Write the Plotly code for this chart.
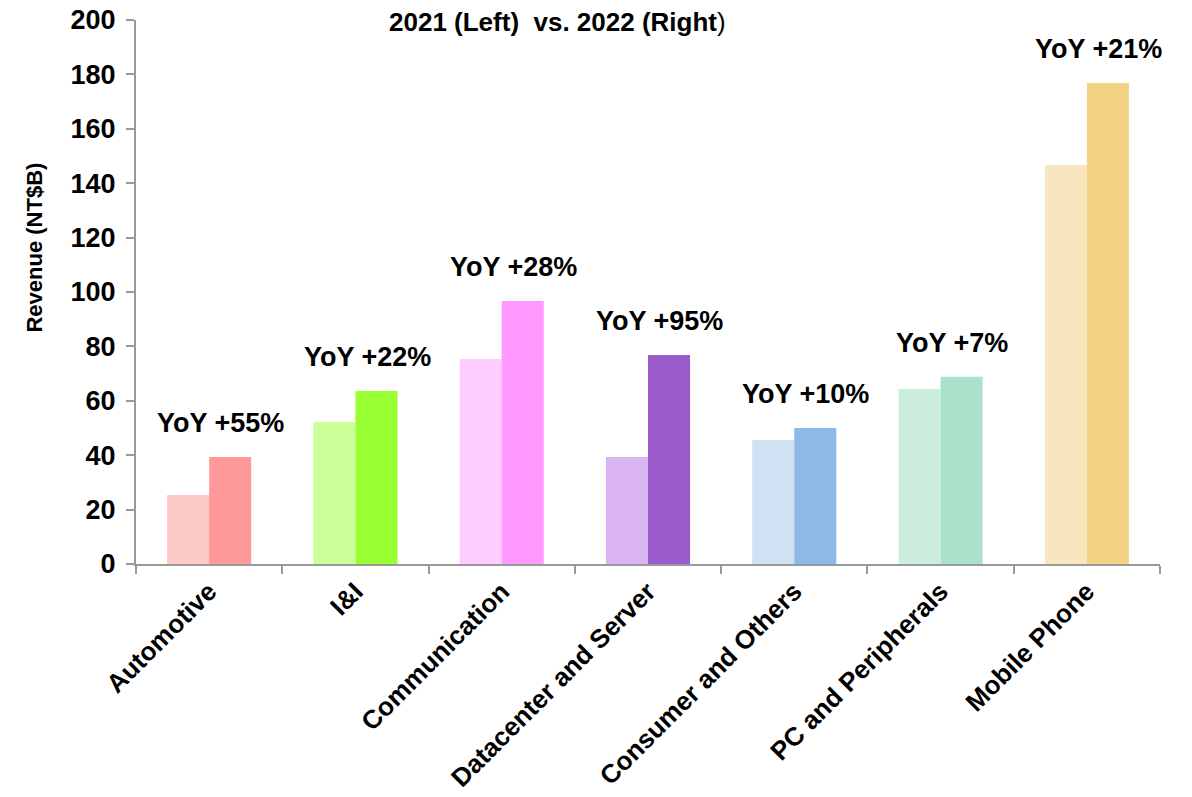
import plotly.graph_objects as go

# Revenue by application segment, NT$ billions
categories = ["Automotive", "I&I", "Communication", "Datacenter and Server",
              "Consumer and Others", "PC and Peripherals", "Mobile Phone"]
revenue_2021 = [25.4, 52.2, 75.4, 39.3, 45.6, 64.3, 146.7]
revenue_2022 = [39.3, 63.6, 96.7, 76.8, 50.0, 68.8, 176.8]
yoy_pct = [55, 22, 28, 95, 10, 7, 21]

colors_2021 = ["#FCC9C9", "#CCFF99", "#FFCCFF", "#D9B3F2", "#CFE2F3", "#CCEEDD", "#F8E6BF"]
colors_2022 = ["#FF9999", "#99FF33", "#FF99FF", "#9B5BCC", "#8DB8E8", "#AAE2CB", "#F3D383"]

FONT = "Liberation Sans, Arial, sans-serif"
AXIS_GRAY = "#999999"

fig = go.Figure()
fig.add_trace(go.Bar(x=categories, y=revenue_2021, name="2021",
                     marker=dict(color=colors_2021, line=dict(width=0))))
fig.add_trace(go.Bar(x=categories, y=revenue_2022, name="2022",
                     marker=dict(color=colors_2022, line=dict(width=0))))

# YoY growth labels above each pair
for i, (cat, a, b, p) in enumerate(zip(categories, revenue_2021, revenue_2022, yoy_pct)):
    fig.add_annotation(x=i + 0.08, y=max(a, b), xref="x", yref="y",
                       text=f"<b>YoY +{p}%</b>", showarrow=False,
                       yanchor="middle", yshift=34,
                       font=dict(family=FONT, size=27, color="#000000"))

# Chart heading
fig.add_annotation(x=0.412, y=0.996, xref="paper", yref="paper",
                   text="<b>2021 (Left)\u00a0\u00a0vs. 2022 (Right</b>)",
                   showarrow=False, xanchor="center", yanchor="middle",
                   font=dict(family=FONT, size=26, color="#000000"))

# Vertical axis title
fig.add_annotation(x=-0.099, y=0.581, xref="paper", yref="paper",
                   text="<b>Revenue (NT$B)</b>", textangle=-90,
                   showarrow=False, xanchor="center", yanchor="middle",
                   font=dict(family=FONT, size=22, color="#000000"))

fig.update_layout(
    width=1192, height=797,
    margin=dict(l=136, r=32, t=20, b=233, autoexpand=False),
    paper_bgcolor="white", plot_bgcolor="white",
    barmode="group", bargap=0.425, bargroupgap=0,
    showlegend=False,
    font=dict(family=FONT, color="#000000"),
)
fig.update_xaxes(
    type="category", range=[-0.5, 6.5], automargin=False,
    showline=True, linecolor=AXIS_GRAY, linewidth=2,
    ticks="outside", tickson="boundaries", ticklen=8, tickwidth=2, tickcolor=AXIS_GRAY,
    tickangle=-45, showgrid=False,
    tickfont=dict(family=FONT, size=26, weight="bold", color="#000000"),
)
fig.update_yaxes(
    range=[0, 200], dtick=20, tick0=0, automargin=False,
    showline=True, linecolor=AXIS_GRAY, linewidth=2,
    ticks="outside", ticklen=8, tickwidth=2, tickcolor=AXIS_GRAY,
    showgrid=False, zeroline=False,
    ticklabelstandoff=5,
    tickfont=dict(family=FONT, size=27, weight="bold", color="#000000"),
)

fig.write_html("out.html")
